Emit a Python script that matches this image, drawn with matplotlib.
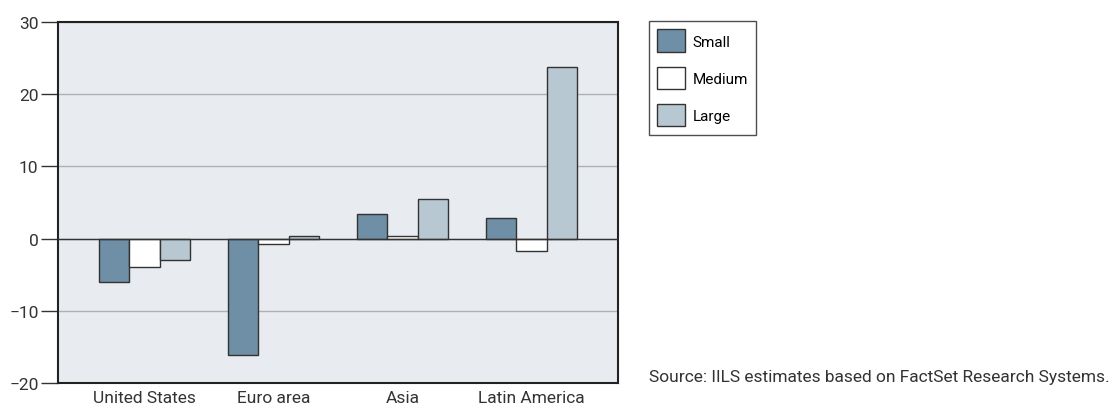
import matplotlib.pyplot as plt
import numpy as np

plt.rcParams['font.family'] = ['Roboto', 'DejaVu Sans']

regions = ['United States', 'Euro area', 'Asia', 'Latin America']
small = [-6.0, -16.1, 3.4, 2.8]
medium = [-4.0, -0.7, 0.3, -1.7]
large = [-3.0, 0.4, 5.5, 23.7]

fig = plt.figure(figsize=(11.2, 4.14), dpi=100)
ax = fig.add_axes([58 / 1120, 30 / 414, 560 / 1120, 361 / 414])
ax.set_facecolor('#e8ecf0')

x = np.arange(len(regions))
w = 0.234
ax.bar(x - w, small, w, color='#6e8fa6', edgecolor='#333333', linewidth=1, label='Small', zorder=3)
ax.bar(x, medium, w, color='white', edgecolor='#333333', linewidth=1, label='Medium', zorder=3)
ax.bar(x + w, large, w, color='#b8c8d2', edgecolor='#333333', linewidth=1, label='Large', zorder=3)

ax.set_xlim(-0.67, 3.67)
ax.set_ylim(-20, 30)
ax.set_yticks([-20, -10, 0, 10, 20, 30])
ax.set_yticklabels(['\u221220', '\u221210', '0', '10', '20', '30'])
ax.yaxis.grid(True, color='#b0b0b0', linewidth=1, zorder=1)
ax.axhline(0, color='#333333', linewidth=1, zorder=4)
ax.set_xticks(x)
ax.set_xticklabels(regions)
ax.tick_params(axis='x', length=0, pad=5, labelsize=12.5, colors='#333333')
ax.tick_params(axis='y', length=12, width=1, color='#333333', labelsize=12.5, labelcolor='#333333', pad=2)
for s in ax.spines.values():
    s.set_linewidth(1.5)
    s.set_color('#222222')

leg = fig.legend(loc='upper left', bbox_to_anchor=(649 / 1120, 1 - 22 / 414), frameon=True,
                 fancybox=False, edgecolor='#222222', fontsize=11, handlelength=1.8,
                 handleheight=1.9, labelspacing=0.95, borderpad=0.55, handletextpad=0.5,
                 borderaxespad=0)
leg.get_frame().set_linewidth(1)

fig.text(649 / 1120, 1 - 378 / 414, 'Source: IILS estimates based on FactSet Research Systems.',
         fontsize=12.5, color='#333333', va='center', ha='left')

fig.savefig('out.png', dpi=100)
